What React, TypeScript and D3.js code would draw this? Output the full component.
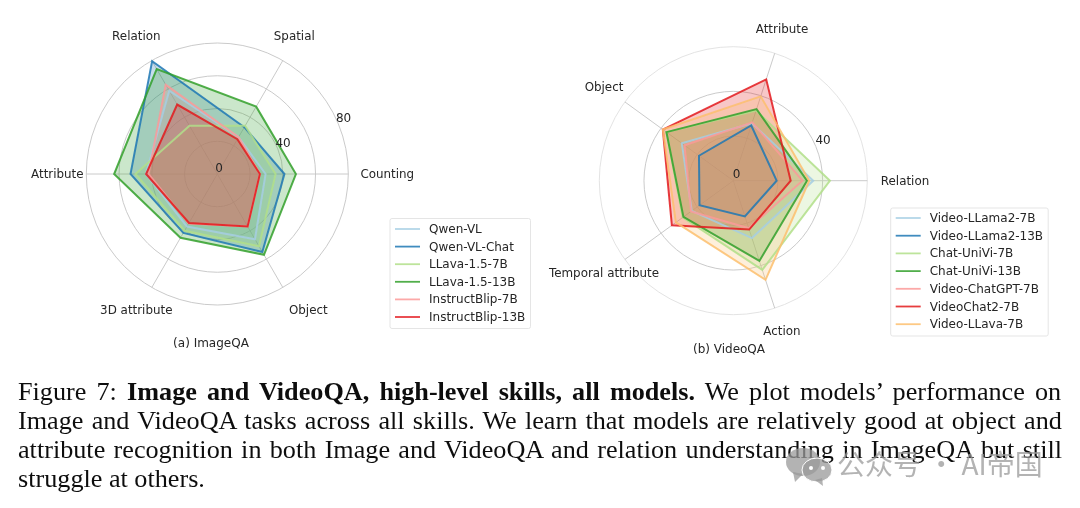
import * as d3 from 'd3';

const WIDTH = 1080;
const HEIGHT = 508;
const SANS = '"DejaVu Sans", sans-serif';
const SERIF = '"Liberation Serif", serif';

// ImageQA
const imageSkills = ['Counting', 'Spatial', 'Relation', 'Attribute', '3D attribute', 'Object'];
const imageModels = ['Qwen-VL', 'Qwen-VL-Chat', 'LLava-1.5-7B', 'LLava-1.5-13B', 'InstructBlip-7B', 'InstructBlip-13B'];
const qwenVl = [29.5, 26, 58.7, 43.6, 37, 46];
const qwenVlChat = [41, 33, 79.6, 53, 41.5, 55];
const llava7b = [35.6, 34, 34, 50, 40, 51];
const llava13b = [48, 47.5, 74, 63, 45, 57];
const blip7b = [26, 26, 63, 42, 35, 37];
const blip13b = [26, 24.5, 49, 43.5, 34.5, 37];

// VideoQA
const videoSkills = ['Relation', 'Attribute', 'Object', 'Temporal attribute', 'Action'];
const videoModels = ['Video-LLama2-7B', 'Video-LLama2-13B', 'Chat-UniVi-7B', 'Chat-UniVi-13B', 'Video-ChatGPT-7B', 'VideoChat2-7B', 'Video-LLava-7B'];
const llama7b = [35.8, 27, 28.5, 23, 27];
const llama13b = [19.4, 26, 19, 18.7, 16.8];
const univi7b = [43.3, 33, 37, 28, 42];
const univi13b = [33, 33.7, 37, 27.6, 37.8];
const chatgpt7b = [31, 27.5, 27, 23.4, 22.4];
const videochat2 = [25.7, 47.7, 39, 34, 23];
const videoLlava = [34, 39.7, 39, 31.8, 46.7];

const PAIRED = d3.schemePaired;

interface RadarProps {
  cx: number;
  cy: number;
  radius: number;
  rMax: number;
  rings: number[];
  tickLabels: { value: number; dx: number; dy: number }[];
  skills: string[];
  series: number[][];
  labelOffsets: [number, number][];
  fillOpacity: number;
  outerRingColor: string;
}

function Radar({ cx, cy, radius, rMax, rings, tickLabels, skills, series, labelOffsets, fillOpacity, outerRingColor }: RadarProps) {
  const r = d3.scaleLinear().domain([0, rMax]).range([0, radius]);
  const angle = d3.scalePoint<number>().domain(d3.range(skills.length)).range([0, 360 - 360 / skills.length]);
  // svg y points down, so the angles run against the clock like matplotlib polar
  const toTheta = (i: number) => Math.PI / 2 - ((angle(i) ?? 0) * Math.PI) / 180;
  const line = d3
    .lineRadial<number>()
    .angle((_, i) => toTheta(i))
    .radius((d) => r(d))
    .curve(d3.curveLinearClosed);

  return (
    <g transform={`translate(${cx},${cy})`}>
      {rings.map((v, i) => (
        <circle key={v} r={r(v)} fill="none" stroke={i === rings.length - 1 ? outerRingColor : '#c4c4c4'} strokeWidth={0.9} />
      ))}
      {skills.map((s, i) => {
        const t = toTheta(i);
        return <line key={s} x1={0} y1={0} x2={radius * Math.sin(t)} y2={-radius * Math.cos(t)} stroke="#c4c4c4" strokeWidth={0.9} />;
      })}
      {series.map((vals, i) => (
        <path key={i} d={line(vals) ?? ''} fill={PAIRED[i]} fillOpacity={fillOpacity} stroke="none" />
      ))}
      {/* outlines go above every fill so the small polygons stay readable */}
      {series.map((vals, i) => (
        <path key={i} d={line(vals) ?? ''} fill="none" stroke={PAIRED[i]} strokeOpacity={0.85} strokeWidth={2} strokeLinejoin="miter" />
      ))}
      {tickLabels.map((t) => {
        const a = (22.5 * Math.PI) / 180;
        const rr = r(t.value);
        return (
          <text key={t.value} x={rr * Math.cos(a) + t.dx} y={-rr * Math.sin(a) + t.dy} fontFamily={SANS} fontSize={12} fill="#262626" textAnchor="middle" dominantBaseline="central">
            {t.value}
          </text>
        );
      })}
      {skills.map((s, i) => (
        <text key={s} x={labelOffsets[i][0]} y={labelOffsets[i][1]} fontFamily={SANS} fontSize={11.9} fill="#262626" textAnchor="middle" dominantBaseline="central">
          {s}
        </text>
      ))}
    </g>
  );
}

function Legend({ x, y, w, h, names, firstRow, rowStep }: { x: number; y: number; w: number; h: number; names: string[]; firstRow: number; rowStep: number }) {
  return (
    <g>
      <rect x={x} y={y} width={w} height={h} rx={2} fill="#fff" stroke="#e2e2e2" strokeWidth={0.9} />
      {names.map((n, i) => {
        const yy = firstRow + i * rowStep;
        return (
          <g key={n}>
            <line x1={x + 5} x2={x + 30} y1={yy} y2={yy} stroke={PAIRED[i]} strokeOpacity={0.85} strokeWidth={1.8} />
            <text x={x + 39} y={yy} fontFamily={SANS} fontSize={12} fill="#262626" dominantBaseline="central">
              {n}
            </text>
          </g>
        );
      })}
    </g>
  );
}

export default function App() {
  return (
    <svg width={WIDTH} height={HEIGHT} style={{ position: 'fixed', left: 0, top: 0, background: '#fff' }}>
      <defs>
        <filter id="soft" x="0" y="0" width="100%" height="100%">
          <feGaussianBlur stdDeviation={0.4} />
        </filter>
      </defs>
      <g filter="url(#soft)">
        <Radar
          cx={217.3}
          cy={174}
          radius={131}
          rMax={80}
          rings={[20, 40, 60, 80]}
          tickLabels={[
            { value: 0, dx: 1.7, dy: -6.3 },
            { value: 40, dx: 5.3, dy: -6.3 },
            { value: 80, dx: 5.3, dy: -6.3 },
          ]}
          skills={imageSkills}
          series={[qwenVl, qwenVlChat, llava7b, llava13b, blip7b, blip13b]}
          labelOffsets={[[170, 0], [77, -138], [-81, -138], [-160, 0], [-81, 136], [91, 136]]}
          fillOpacity={0.25}
          outerRingColor="#c4c4c4"
        />
        <Radar
          cx={733.3}
          cy={180.7}
          radius={134}
          rMax={60}
          rings={[20, 40, 60]}
          tickLabels={[
            { value: 0, dx: 3.3, dy: -6.3 },
            { value: 40, dx: 7.3, dy: -6.7 },
          ]}
          skills={videoSkills}
          series={[llama7b, llama13b, univi7b, univi13b, chatgpt7b, videochat2, videoLlava]}
          labelOffsets={[[171.7, 0], [48.7, -151.7], [-129.3, -93.7], [-129.3, 92.3], [48.7, 150.3]]}
          fillOpacity={0.25}
          outerRingColor="#e0e0e0"
        />

        <Legend x={390} y={218.5} w={140.5} h={110} names={imageModels} firstRow={229} rowStep={17.6} />
        <Legend x={890.7} y={208} w={157.5} h={128} names={videoModels} firstRow={218} rowStep={17.7} />

        <text x={211} y={342.5} fontFamily={SANS} fontSize={12} fill="#262626" textAnchor="middle" dominantBaseline="central">(a) ImageQA</text>
        <text x={729} y={349} fontFamily={SANS} fontSize={12} fill="#262626" textAnchor="middle" dominantBaseline="central">(b) VideoQA</text>

        <g fontFamily={SERIF} fontSize={26.2} fill="#111">
          <text x={18} y={400} wordSpacing={3.6}>
            Figure 7: <tspan fontWeight="bold">Image and VideoQA, high-level skills, all models.</tspan> We plot models’ performance on
          </text>
          <text x={18} y={429} wordSpacing={1.67}>
            Image and VideoQA tasks across all skills. We learn that models are relatively good at object and
          </text>
          <text x={18} y={458} wordSpacing={1.75}>
            attribute recognition in both Image and VideoQA and relation understanding in ImageQA but still
          </text>
          <text x={18} y={487}>struggle at others.</text>
        </g>
      </g>

      {/* watermark */}
      <g fill="#9a9a9a" fillOpacity={0.75} filter="url(#soft)">
        <ellipse cx={803} cy={462} rx={17} ry={14} />
        <path d="M793 472 L795 482 L803 474 Z" />
        <ellipse cx={817} cy={470} rx={15} ry={12} stroke="#fff" strokeWidth={1} />
        <path d="M822 478 L823 486 L815 480 Z" />
        <circle cx={811} cy={468} r={2} fill="#fff" fillOpacity={1} />
        <circle cx={823} cy={468} r={2} fill="#fff" fillOpacity={1} />
        <text x={837} y={475} fontFamily='"Noto Sans CJK SC", sans-serif' fontSize={28}>公众号 · AI帝国</text>
      </g>
    </svg>
  );
}
